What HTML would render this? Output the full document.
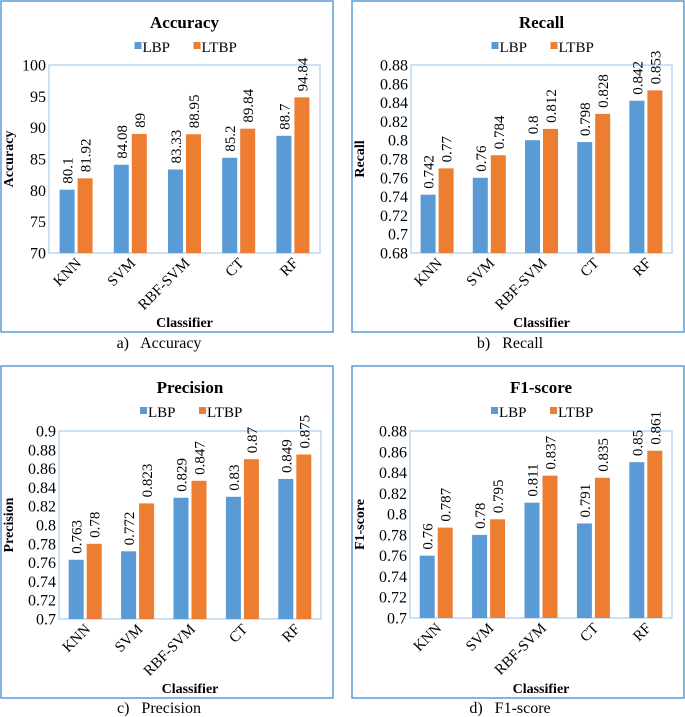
<!DOCTYPE html>
<html><head><meta charset="utf-8"><style>
html,body{margin:0;padding:0;background:#fff;}
svg{display:block;font-family:"Liberation Serif",serif;}
text{white-space:pre;}
</style></head><body>
<svg id="fig" width="685" height="717" viewBox="0 0 685 717"></svg>
<script>
const categories = ["KNN","SVM","RBF-SVM","CT","RF"];
const accLBP = [80.1,84.08,83.33,85.2,88.7];
const accLTBP = [81.92,89,88.95,89.84,94.84];
const accTicks = ["70","75","80","85","90","95","100"];
const recLBP = [0.742,0.76,0.8,0.798,0.842];
const recLTBP = [0.77,0.784,0.812,0.828,0.853];
const recTicks = ["0.68","0.7","0.72","0.74","0.76","0.78","0.8","0.82","0.84","0.86","0.88"];
const preLBP = [0.763,0.772,0.829,0.83,0.849];
const preLTBP = [0.78,0.823,0.847,0.87,0.875];
const preTicks = ["0.7","0.72","0.74","0.76","0.78","0.8","0.82","0.84","0.86","0.88","0.9"];
const f1LBP = [0.76,0.78,0.811,0.791,0.85];
const f1LTBP = [0.787,0.795,0.837,0.835,0.861];
const f1Ticks = ["0.7","0.72","0.74","0.76","0.78","0.8","0.82","0.84","0.86","0.88"];

const NS="http://www.w3.org/2000/svg";
const svg=document.getElementById('fig');
function mk(tag,attrs,parent,text){const e=document.createElementNS(NS,tag);for(const k in attrs)e.setAttribute(k,attrs[k]);if(text!==undefined)e.textContent=text;(parent||svg).appendChild(e);return e;}

const panels=[
 {key:'accuracy',title:'Accuracy',cap:'a)   Accuracy',yt:'Accuracy',lbp:accLBP,ltbp:accLTBP,ticks:accTicks,box:[1,1,332,331],plot:[49,65,320,253],ytX:13,capY:348},
 {key:'recall',title:'Recall',cap:'b)   Recall',yt:'Recall',lbp:recLBP,ltbp:recLTBP,ticks:recTicks,box:[352,1,332,331],plot:[411,65,672,253],ytX:364,capY:348},
 {key:'precision',title:'Precision',cap:'c)   Precision',yt:'Precision',lbp:preLBP,ltbp:preLTBP,ticks:preTicks,box:[1,366,332,332],plot:[59,431,321,619],ytX:13,capY:713},
 {key:'f1-score',title:'F1-score',cap:'d)   F1-score',yt:'F1-score',lbp:f1LBP,ltbp:f1LTBP,ticks:f1Ticks,box:[352,366,332,332],plot:[410,431,672,618],ytX:364,capY:713}
];

panels.forEach(p=>{
  const g=mk('g',{});
  
  
  const [bx,by,bw,bh]=p.box;
  const border=mk('rect',{x:bx,y:by,width:bw,height:bh,fill:'#fff',stroke:'#5b9bd5','stroke-width':1.5},g);
  
  
  const [x0,y0,x1,y1]=p.plot;
  const cx=(x0+x1)/2;
  const t=mk('text',{x:cx,y:by+27,'text-anchor':'middle','font-size':17,'font-weight':'bold'},g,p.title);
  
  
  const lg=mk('g',{},g);
  
  
  const ly=by+51;
  mk('rect',{x:cx-50,y:ly-10,width:7,height:7,fill:'#5b9bd5'},lg);
  const l1=mk('text',{x:cx-42,y:ly,'font-size':15},lg,'LBP');
  
  
  mk('rect',{x:cx+9,y:ly-10,width:7,height:7,fill:'#ed7d31'},lg);
  const l2=mk('text',{x:cx+17,y:ly,'font-size':15},lg,'LTBP');
  
  
  const pf=mk('rect',{x:x0,y:y0,width:x1-x0,height:y1-y0,fill:'none',stroke:'#bdd7ee','stroke-width':1.5},g);
  
  
  const tmin=parseFloat(p.ticks[0]), tmax=parseFloat(p.ticks[p.ticks.length-1]);
  const yS=v=>y1-(v-tmin)/(tmax-tmin)*(y1-y0);
  p.ticks.forEach(tk=>{
    const e=mk('text',{x:x0-3,y:yS(parseFloat(tk))+5.5,'text-anchor':'end','font-size':16},g,tk);
    
    
  });
  const yc=(y0+y1)/2;
  const yt=mk('text',{x:p.ytX,y:yc,'text-anchor':'middle','font-size':14,'font-weight':'bold',transform:`rotate(-90 ${p.ytX} ${yc})`},g,p.yt);
  
  
  const cw=(x1-x0)/categories.length;
  categories.forEach((c,i)=>{
    const gc=x0+cw*(i+0.5);
    [[p.lbp[i],'#5b9bd5',gc-16.5,'lbp'],[p.ltbp[i],'#ed7d31',gc+1.5,'ltbp']].forEach(([v,col,bxp,s])=>{
      const top=yS(v);
      const r=mk('rect',{x:bxp,y:top,width:15,height:y1-top,fill:col},g);
      
      
      const lx=bxp+13, lyy=top-6;
      const lab=mk('text',{x:lx,y:lyy,'font-size':15,transform:`rotate(-90 ${lx} ${lyy})`},g,String(v));
      
      
    });
    const ax=gc+6, ay=y1+11;
    const cl=mk('text',{x:ax,y:ay,'text-anchor':'end','font-size':15,transform:`rotate(-45 ${ax} ${ay})`},g,c);
    
    
  });
  const xt=mk('text',{x:cx,y:by+bh-5,'text-anchor':'middle','font-size':14,'font-weight':'bold'},g,'Classifier');
  
  
  const cap=mk('text',{x:bx+bw/2-8,y:p.capY,'text-anchor':'middle','font-size':16},svg,p.cap);
  
  
});
</script>
</body></html>
